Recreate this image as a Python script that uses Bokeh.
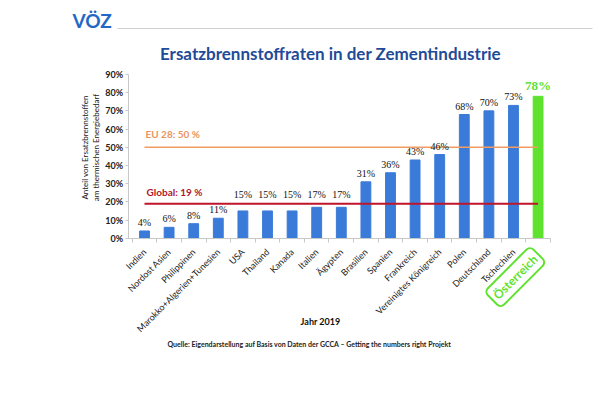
from math import pi
from bokeh.plotting import figure
from bokeh.models import ColumnDataSource, Label, Range1d, FixedTicker, Arrow, NumeralTickFormatter
from bokeh.embed import file_html
from bokeh.resources import INLINE

countries = ["Indien", "Nordost Asien", "Philippinen", "Marokko+Algerien+Tunesien", "USA",
             "Thailand", "Kanada", "Italien", "Ägypten", "Brasilien", "Spanien", "Frankreich",
             "Vereinigtes Königreich", "Polen", "Deutschland", "Tschechien", "Österreich"]
values = [0.04, 0.06, 0.08, 0.11, 0.15, 0.15, 0.15, 0.17, 0.17, 0.31, 0.36, 0.43,
          0.46, 0.68, 0.70, 0.73, 0.78]
value_labels = ["4%", "6%", "8%", "11%", "15%", "15%", "15%", "17%", "17%", "31%", "36%",
                "43%", "46%", "68%", "70%", "73%", "78%"]
y_ticks = [0.0, 0.1, 0.2, 0.3, 0.4, 0.5, 0.6, 0.7, 0.8, 0.9]
eu_value = 0.50
eu_text = "EU 28: 50 %"
global_value = 0.19
global_text = "Global: 19 %"
title_text = "Ersatzbrennstoffraten in der Zementindustrie"
y_title_1 = "Anteil von Ersatzbrennstoffen"
y_title_2 = "am thermischen Energiebedarf"
x_title = "Jahr 2019"
source_text = "Quelle: Eigendarstellung auf Basis von Daten der GCCA \u2013 Getting the numbers right Projekt"
logo_text = "VÖZ"

FONT = "Lato"
BLUE = "#3a7bd9"
GREEN = "#5fe22e"
n = len(countries)
xs = list(range(n))

# value labels that would collide with the "Global" line are lifted just above it
lab_y = [global_value + 0.005 if (v < global_value < v + 0.075) else v for v in values]

src = ColumnDataSource(dict(x=xs[:-1], top=values[:-1], lab=value_labels[:-1], ly=lab_y[:-1]))
src_at = ColumnDataSource(dict(x=xs[-1:], top=values[-1:], lab=value_labels[-1:], ly=lab_y[-1:]))

# the frame fills the whole canvas; axes are pinned inside it
W, H = 600, 399
p = figure(width=W, height=H, output_backend="svg", toolbar_location=None,
           x_range=Range1d(-5.854, 18.537), y_range=Range1d(-0.8863, 1.3066),
           min_border=0, min_border_left=0, min_border_right=0,
           min_border_top=0, min_border_bottom=0)
p.outline_line_color = None
p.background_fill_color = "white"
p.border_fill_color = "white"
p.grid.visible = False

p.vbar(x="x", top="top", width=0.4, color=BLUE, source=src)
p.vbar(x="x", top="top", width=0.4, color=GREEN, source=src_at)

p.segment(x0=[xs[0]], x1=[xs[-1]], y0=[eu_value], y1=[eu_value], line_color="#f39c62", line_width=1.5)
p.segment(x0=[xs[0]], x1=[xs[-1]], y0=[global_value], y1=[global_value], line_color="#c0142a", line_width=2)

p.text(x="x", y="ly", text="lab", source=src, text_align="center", text_baseline="bottom",
       y_offset=-3, text_font_size="10px", text_color="#111111", text_font=FONT)
p.text(x="x", y="ly", text="lab", source=src_at, text_align="center", text_baseline="bottom",
       y_offset=-3, text_font_size="13px", text_font_style="bold", text_color=GREEN, text_font=FONT)

p.add_layout(Label(x=xs[0], y=eu_value, text=eu_text, x_offset=1, y_offset=13,
                   text_font=FONT, text_font_size="10px", text_font_style="bold",
                   text_color="#ea9460", text_baseline="middle"))
p.add_layout(Label(x=xs[0], y=global_value, text=global_text, x_offset=2, y_offset=12,
                   text_font=FONT, text_font_size="10px", text_font_style="bold",
                   text_color="#b0182a", text_baseline="middle"))

AXIS_X = -0.67
# y axis
p.yaxis.fixed_location = AXIS_X
p.yaxis.bounds = (0, 0.9)
p.yaxis.ticker = FixedTicker(ticks=y_ticks)
p.yaxis.formatter = NumeralTickFormatter(format="0%")
p.yaxis.major_label_text_font = FONT
p.yaxis.major_label_text_font_size = "9px"
p.yaxis.major_label_text_font_style = "bold"
p.yaxis.major_label_text_color = "#222222"
p.yaxis.axis_line_color = "#c8c8c8"
p.yaxis.major_tick_line_color = "#c8c8c8"
p.yaxis.major_tick_out = 3
p.yaxis.major_tick_in = 0
p.yaxis.major_label_standoff = 2
p.yaxis.minor_tick_line_color = None

# x axis
p.xaxis.fixed_location = 0
p.xaxis.bounds = (AXIS_X, n - 0.5)
p.xaxis.ticker = FixedTicker(ticks=xs, minor_ticks=[i - 0.5 for i in range(n + 1)])
p.xaxis.major_label_overrides = {i: (c if i < n - 1 else "") for i, c in enumerate(countries)}
p.xaxis.major_label_orientation = pi / 4
p.xaxis.major_label_text_font = FONT
p.xaxis.major_label_text_font_size = "9px"
p.xaxis.major_label_text_color = "#1a1a1a"
p.xaxis.major_label_standoff = 6
p.xaxis.axis_line_color = "#c8c8c8"
p.xaxis.major_tick_line_color = None
p.xaxis.minor_tick_line_color = "#c8c8c8"
p.xaxis.minor_tick_out = 4
p.xaxis.minor_tick_in = 0

# Österreich highlighted tick label
p.add_layout(Label(x=xs[-1], y=0, y_offset=-16, x_offset=0, text=countries[-1], angle=pi / 4,
                   text_align="right", text_baseline="middle", text_font=FONT,
                   text_font_size="12px", text_font_style="bold", text_color=GREEN,
                   border_line_color=GREEN, border_line_width=2, border_radius=5,
                   padding=4, background_fill_color="white"))

def sy(y):
    return H - y

# y axis title (two lines)
p.add_layout(Label(x=84, y=sy(147), x_units="screen", y_units="screen", text=y_title_1, angle=pi / 2,
                   text_align="center", text_baseline="middle", text_font=FONT,
                   text_font_size="8px", text_color="#222222"))
p.add_layout(Label(x=95, y=sy(147), x_units="screen", y_units="screen", text=y_title_2, angle=pi / 2,
                   text_align="center", text_baseline="middle", text_font=FONT,
                   text_font_size="8px", text_color="#222222"))

# x axis title
p.add_layout(Label(x=320, y=sy(321), x_units="screen", y_units="screen", text=x_title,
                   text_align="center", text_baseline="middle", text_font=FONT,
                   text_font_size="9px", text_font_style="bold", text_color="#111111"))

# header
p.add_layout(Label(x=330, y=sy(53), x_units="screen", y_units="screen", text=title_text,
                   text_align="center", text_baseline="middle", text_font=FONT,
                   text_font_size="17px", text_font_style="bold", text_color="#1f4b98"))
p.add_layout(Label(x=72, y=sy(20), x_units="screen", y_units="screen", text=logo_text,
                   text_align="left", text_baseline="middle", text_font=FONT,
                   text_font_size="19px", text_font_style="bold", text_color="#2468c6"))
p.add_layout(Arrow(x_start=117, y_start=sy(28), x_end=592, y_end=sy(28), start_units="screen",
                   end_units="screen", end=None, line_color="#cfcfcf", line_width=1))

# source
p.add_layout(Label(x=309, y=sy(343), x_units="screen", y_units="screen", text=source_text,
                   text_align="center", text_baseline="middle", text_font=FONT,
                   text_font_size="7px", text_font_style="bold", text_color="#222222"))

open("out.html", "w").write(file_html(p, INLINE))
